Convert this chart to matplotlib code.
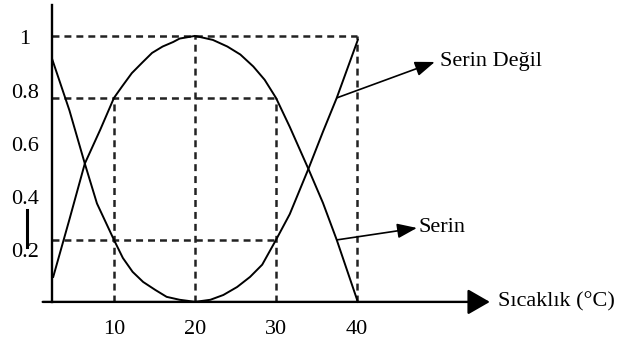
#!/usr/bin/env python
# Serin / Serin Degil membership curves over temperature

import matplotlib
matplotlib.use('Agg')
import matplotlib.pyplot as plt

plt.rcParams['font.family'] = ['Liberation Serif', 'DejaVu Serif']
plt.rcParams['lines.scale_dashes'] = False

# "Serin" curve (inverted U)
serin_x = [2.5, 4.5, 6.4, 8.3, 10, 11, 12.2, 13.5, 14.7, 16.0, 17.3, 18.1, 20,
           20.6, 22.2, 24.0, 25.6, 27.2, 28.6, 30, 31.7, 34, 35.8, 37.5, 40.1]
serin_y = [0.094, 0.31, 0.52, 0.647, 0.767, 0.81, 0.86, 0.90, 0.936, 0.96, 0.977, 0.99, 1.0,
           0.996, 0.985, 0.96, 0.93, 0.885, 0.835, 0.767, 0.658, 0.5, 0.372, 0.233, 0.0]

# "Serin Degil" curve (U)
degil_x = [2.4, 4.5, 6.4, 7.9, 10, 11.1, 12.3, 13.6, 15.1, 16.5, 18.1, 19.1, 20,
           21.9, 23.5, 25.2, 26.8, 28.3, 30, 31.7, 34, 35.8, 37.5, 40.1]
degil_y = [0.91, 0.72, 0.52, 0.37, 0.233, 0.165, 0.113, 0.075, 0.045, 0.019, 0.008, 0.004, 0.0,
           0.008, 0.026, 0.056, 0.094, 0.14, 0.233, 0.33, 0.5, 0.64, 0.767, 0.985]

# dashed guide lines: (level, x end) and (x, level top)
h_guides = [(1.0, 40), (0.767, 30), (0.233, 30)]
v_guides = [(10, 0.767), (20, 1.0), (30, 0.767), (40, 1.0)]

y_ticks = [0.2, 0.4, 0.6, 0.8, 1.0]
y_tick_labels = ['0.2', '0.4', '0.6', '0.8', '1']
x_ticks = [10, 20, 30, 40]

fig = plt.figure(figsize=(6.24, 3.41), dpi=100)
ax = fig.add_axes([0, 0, 1, 1])
ax.set_xlim(-4.07, 72.96)
ax.set_ylim(-0.147, 1.135)
ax.axis('off')

dash = dict(color='#222222', lw=1.8, linestyle=(0, (5, 3.6)))
for lev, xe in h_guides:
    ax.plot([2.4, xe], [lev, lev], **dash)
for xv, top in v_guides:
    ax.plot([xv, xv], [0, top], **dash)

ax.plot(serin_x, serin_y, color='black', lw=1.4)
ax.plot(degil_x, degil_y, color='black', lw=1.4)

# axes
ax.plot([2.4, 2.4], [0, 1.115], color='black', lw=1.7)
ax.annotate('', xy=(56.4, 0), xytext=(1.2, 0),
            arrowprops=dict(arrowstyle='-|>,head_length=0.4,head_width=0.23',
                            mutation_scale=34, lw=1.7, color='black',
                            shrinkA=0, shrinkB=0))
ax.text(57.4, 0.0, 'Sıcaklık (°C)', fontsize=16, ha='left', va='center')

for yt, lab in zip(y_ticks, y_tick_labels):
    ax.text(-1.0, yt - 0.015, lab, fontsize=16, ha='center', va='center')
for xt in x_ticks:
    ax.text(xt, -0.105, str(xt), fontsize=16, ha='center', va='center')

# stray cursor bar left of the y labels
ax.plot([-0.74, -0.74], [0.207, 0.346], color='black', lw=2.2)

# labels with arrows
arrow = dict(arrowstyle='-|>,head_length=0.4,head_width=0.15',
             mutation_scale=30, lw=1.2, color='black', shrinkA=0, shrinkB=0)
ax.annotate('', xy=(49.6, 0.902), xytext=(37.5, 0.767), arrowprops=arrow)
ax.text(50.2, 0.902, 'Serin Değil', fontsize=16, ha='left', va='center')
ax.annotate('', xy=(47.4, 0.278), xytext=(37.5, 0.233), arrowprops=arrow)
ax.text(47.6, 0.278, 'Serin', fontsize=16, ha='left', va='center')

plt.savefig('out.png', dpi=100)
